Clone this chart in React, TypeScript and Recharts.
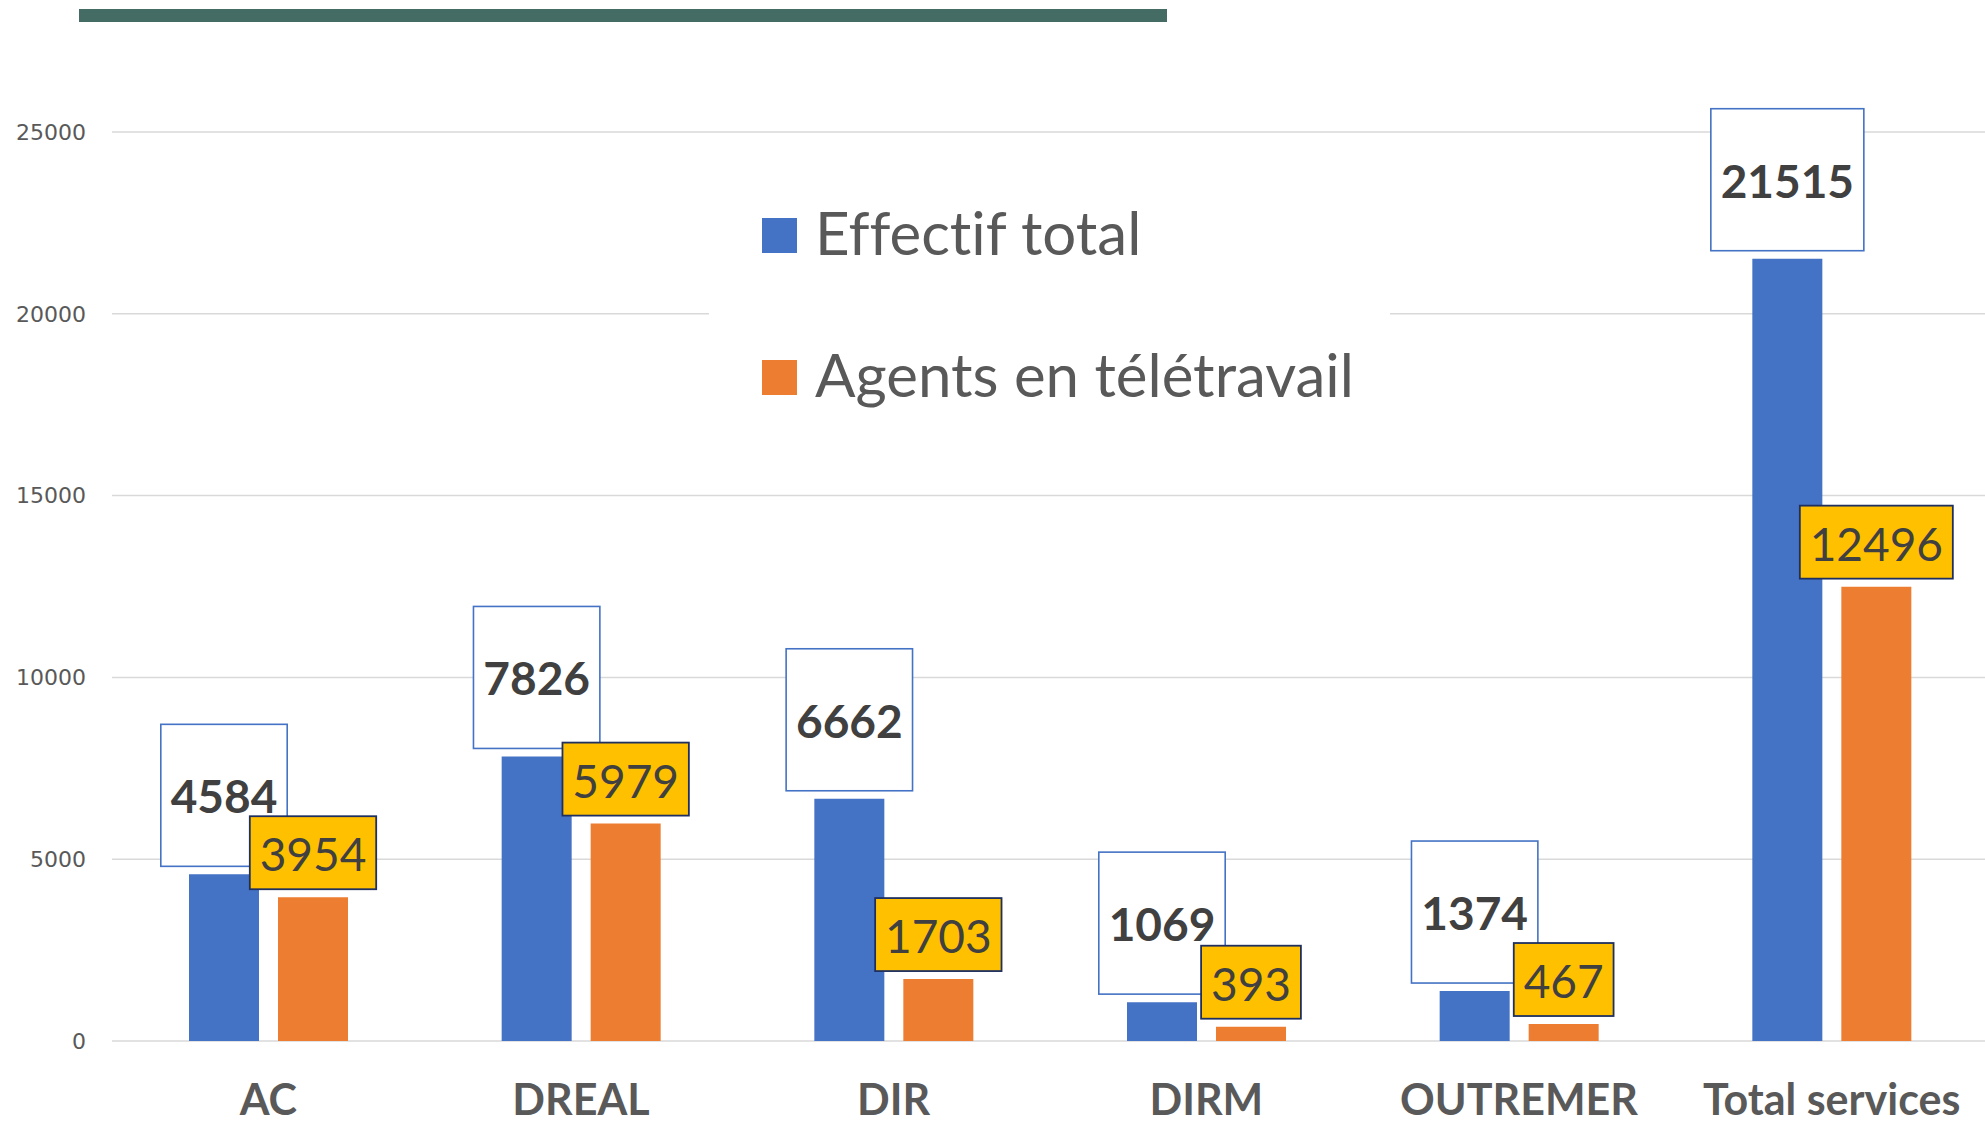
import React from 'react';
import { BarChart, Bar, XAxis, YAxis, CartesianGrid, LabelList, Legend } from 'recharts';

const categories = ['AC', 'DREAL', 'DIR', 'DIRM', 'OUTREMER', 'Total services'];
const effectifTotal = [4584, 7826, 6662, 1069, 1374, 21515];
const agentsTeletravail = [3954, 5979, 1703, 393, 467, 12496];
const yTicks = [0, 5000, 10000, 15000, 20000, 25000];
const seriesNames = ['Effectif total', 'Agents en télétravail'];

const data = categories.map((c, i) => ({
  name: c,
  total: effectifTotal[i],
  tele: agentsTeletravail[i],
}));

const BLUE = '#4472C4';
const ORANGE = '#ED7D31';
const LATO = 'Lato, "Open Sans", sans-serif';
const NOLIG = { fontVariantLigatures: 'none' as const, fontFeatureSettings: '"liga" 0' };

const BlueLabel = (props: any) => {
  const { x, y, width, value } = props;
  const txt = String(value);
  const w = txt.length * 26.6 + 20;
  const cx = x + width / 2;
  return (
    <g>
      <rect x={cx - w / 2} y={y - 150} width={w} height={142} fill="#ffffff" stroke={BLUE} strokeWidth={1.6} />
      <text x={cx} y={y - 61} textAnchor="middle" fontFamily={LATO} fontWeight={700} fontSize={46} fill="#404040">
        {txt}
      </text>
    </g>
  );
};

const YellowLabel = (props: any) => {
  const { x, y, width, value } = props;
  const txt = String(value);
  const w = txt.length * 26.6 + 20;
  const cx = x + width / 2;
  return (
    <g>
      <rect x={cx - w / 2} y={y - 81} width={w} height={73} fill="#FFC000" stroke="#1F3060" strokeWidth={1.8} />
      <text x={cx} y={y - 26} textAnchor="middle" fontFamily={LATO} fontWeight={400} fontSize={46} fill="#404040">
        {txt}
      </text>
    </g>
  );
};

const CatTick = (props: any) => {
  const { x, y, payload } = props;
  return (
    <text x={x} y={y + 74} textAnchor="middle" fontFamily={LATO} fontWeight={700} fontSize={43} fill="#595959">
      {payload.value}
    </text>
  );
};

const LegendContent = () => {
  const colors = [BLUE, ORANGE];
  return (
    <div style={{ position: 'relative', width: 681, height: 280, background: '#ffffff' }}>
      {seriesNames.map((n, i) => (
        <div
          key={n}
          style={{
            position: 'absolute',
            left: 53,
            top: 85.5 + i * 142 - 40,
            height: 80,
            display: 'flex',
            alignItems: 'center',
            whiteSpace: 'nowrap',
          }}
        >
          <div style={{ width: 35, height: 35, background: colors[i], marginRight: 18 }} />
          <span
            style={{
              fontFamily: LATO,
              fontSize: 60,
              color: '#595959',
              lineHeight: '80px',
              position: 'relative',
              top: -4,
              ...NOLIG,
            }}
          >
            {n}
          </span>
        </div>
      ))}
    </div>
  );
};

export default function App() {
  return (
    <div style={{ position: 'absolute', left: 0, top: 0, width: 1985, height: 1124, background: '#ffffff', overflow: 'hidden' }}>
      <div style={{ position: 'absolute', left: 79, top: 9, width: 1088, height: 13, background: '#456B65' }} />
      <BarChart
        width={1988}
        height={1124}
        data={data}
        margin={{ top: 132, right: 0, bottom: 0, left: 0 }}
        barSize={70}
        barGap={19}
      >
        <CartesianGrid vertical={false} stroke="#D9D9D9" strokeWidth={1.5} />
        <XAxis
          dataKey="name"
          height={83}
          axisLine={false}
          tickLine={false}
          tickSize={0}
          tickMargin={0}
          interval={0}
          tick={<CatTick />}
        />
        <YAxis
          width={112}
          domain={[0, 25000]}
          ticks={yTicks}
          axisLine={false}
          tickLine={false}
          tickSize={0}
          tickMargin={26}
          tick={{ fill: '#595959', fontSize: 22, fontFamily: '"DejaVu Sans", sans-serif' }}
        />
        <Legend
          layout="vertical"
          align="center"
          verticalAlign="middle"
          wrapperStyle={{ position: 'absolute', left: 709, top: 150, width: 681, height: 280 }}
          content={<LegendContent />}
        />
        <Bar dataKey="total" name={seriesNames[0]} fill={BLUE} isAnimationActive={false}>
          <LabelList dataKey="total" content={<BlueLabel />} />
        </Bar>
        <Bar dataKey="tele" name={seriesNames[1]} fill={ORANGE} isAnimationActive={false}>
          <LabelList dataKey="tele" content={<YellowLabel />} />
        </Bar>
      </BarChart>
    </div>
  );
}
